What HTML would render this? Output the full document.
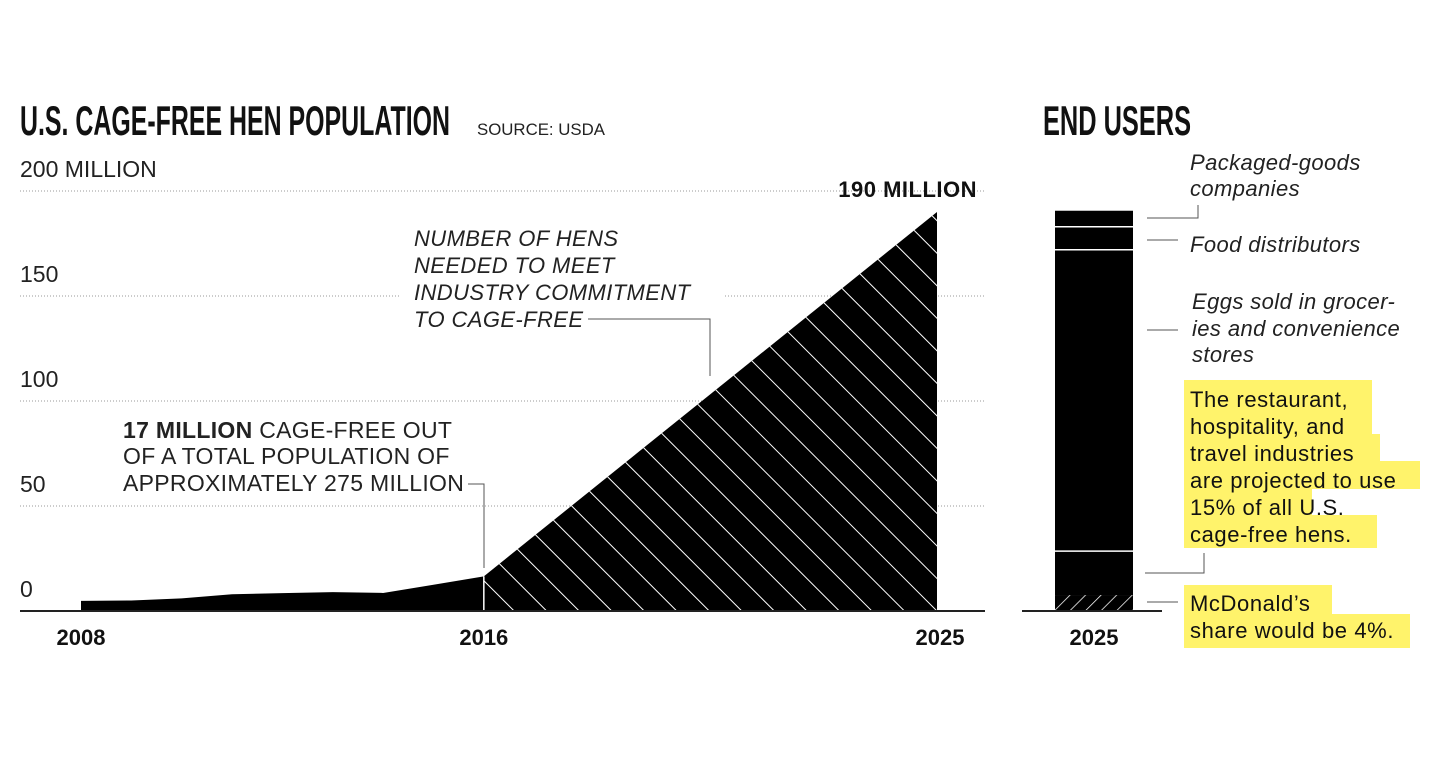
<!DOCTYPE html>
<html><head><meta charset="utf-8"><style>
html,body{margin:0;padding:0;background:#fff;}
svg{display:block;font-family:"Liberation Sans",sans-serif;}
.ax{font-size:23px;fill:#222;font-weight:300;}
.it{font-size:22px;font-style:italic;fill:#222;letter-spacing:0.4px;}
.yr{font-size:22px;font-weight:bold;fill:#111;}
.hl{font-size:22px;fill:#111;letter-spacing:0.6px;}
</style></head><body>
<svg width="1440" height="757" viewBox="0 0 1440 757">
<defs>
<pattern id="hatch" patternUnits="userSpaceOnUse" width="23" height="23" patternTransform="rotate(-45)">
<line x1="0" y1="0" x2="0" y2="23" stroke="#fff" stroke-width="2"/>
</pattern>
<pattern id="hatch2" patternUnits="userSpaceOnUse" width="11" height="11" patternTransform="rotate(45)">
<line x1="0" y1="0" x2="0" y2="11" stroke="#fff" stroke-width="1.5"/>
</pattern>
</defs>
<text x="20" y="135" font-size="42" font-weight="bold" textLength="430" lengthAdjust="spacingAndGlyphs" fill="#111">U.S. CAGE-FREE HEN POPULATION</text>
<text x="477" y="135" font-size="17" fill="#222" textLength="128" lengthAdjust="spacingAndGlyphs">SOURCE: USDA</text>
<text x="1043" y="135" font-size="42" font-weight="bold" textLength="148" lengthAdjust="spacingAndGlyphs" fill="#111">END USERS</text>
<g id="grid"></g>
<g id="yt"></g>
<g id="area"></g>
<line x1="20" y1="611" x2="985" y2="611" stroke="#222" stroke-width="2"/>
<g id="xt"></g>
<text x="977" y="197" text-anchor="end" font-size="22" font-weight="bold" fill="#111" letter-spacing="0.5">190 MILLION</text>
<g>
<text class="it" x="414" y="246">NUMBER OF HENS</text>
<text class="it" x="414" y="273">NEEDED TO MEET</text>
<text class="it" x="414" y="300">INDUSTRY COMMITMENT</text>
<text class="it" x="414" y="327">TO CAGE-FREE</text>
<polyline points="588,319 710,319 710,376" fill="none" stroke="#555" stroke-width="1"/>
</g>
<g>
<text class="ax" x="123" y="438" font-size="22" letter-spacing="0.3"><tspan font-weight="bold">17 MILLION</tspan> CAGE-FREE OUT</text>
<text class="ax" x="123" y="464" font-size="22" letter-spacing="0.3">OF A TOTAL POPULATION OF</text>
<text class="ax" x="123" y="491" font-size="22" letter-spacing="0.3">APPROXIMATELY 275 MILLION</text>
<polyline points="468,484 484,484 484,568" fill="none" stroke="#555" stroke-width="1"/>
</g>
<g id="bar"></g>
<line x1="1022" y1="611" x2="1162" y2="611" stroke="#222" stroke-width="2"/>
<text class="yr" x="1094" y="645" text-anchor="middle">2025</text>
<g fill="none" stroke="#555" stroke-width="1">
<polyline points="1147,218 1198,218 1198,205"/>
<line x1="1147" y1="240" x2="1178" y2="240"/>
<line x1="1147" y1="330" x2="1178" y2="330"/>
<polyline points="1145,573 1204,573 1204,553"/>
<line x1="1147" y1="602" x2="1178" y2="602"/>
</g>
<g>
<text class="it" x="1190" y="170">Packaged-goods</text>
<text class="it" x="1190" y="196">companies</text>
<text class="it" x="1190" y="252">Food distributors</text>
<text class="it" x="1192" y="309">Eggs sold in grocer-</text>
<text class="it" x="1192" y="336">ies and convenience</text>
<text class="it" x="1192" y="362">stores</text>
</g>
<g>
<rect x="1184" y="380" width="188" height="28" fill="#fff36b"/>
<rect x="1184" y="407" width="188" height="28" fill="#fff36b"/>
<rect x="1184" y="434" width="196" height="28" fill="#fff36b"/>
<rect x="1184" y="461" width="236" height="28" fill="#fff36b"/>
<rect x="1184" y="488" width="128" height="28" fill="#fff36b"/>
<rect x="1184" y="515" width="193" height="33" fill="#fff36b"/>
<text class="hl" x="1190" y="407">The restaurant,</text>
<text class="hl" x="1190" y="434">hospitality, and</text>
<text class="hl" x="1190" y="461">travel industries</text>
<text class="hl" x="1190" y="488">are projected to use</text>
<text class="hl" x="1190" y="515">15% of all U.S.</text>
<text class="hl" x="1190" y="542">cage-free hens.</text>
</g>
<g>
<rect x="1184" y="585" width="148" height="30" fill="#fff36b"/>
<rect x="1184" y="614" width="226" height="34" fill="#fff36b"/>
<text class="hl" x="1190" y="611">McDonald’s</text>
<text class="hl" x="1190" y="638">share would be 4%.</text>
</g>
</svg>
<script>
const years=[2008,2009,2010,2011,2012,2013,2014,2015,2016];
const hens=[4.8,5,6,8,8.5,9,8.6,12.5,16.5];
const projYears=[2016,2025];
const projHens=[16.5,190];
const yTicks=[0,50,100,150,200];
const yTickLabels=["0","50","100","150","200 MILLION"];
const xTickYears=[2008,2016,2025];
const segNames=["mcdonalds","restaurants","groceries","food-distributors","packaged-goods"];
const segValues=[7.6,20.9,143.5,11,7.6];

const NS="http://www.w3.org/2000/svg";
const X=y=>81+(y-2008)*(937-81)/17;
const Y=v=>611-v*2.1;
function mk(t,a,p){const e=document.createElementNS(NS,t);for(const k in a)e.setAttribute(k,a[k]);p.appendChild(e);return e;}
const grid=document.getElementById('grid'),yt=document.getElementById('yt');
yTicks.forEach((v,i)=>{
  if(v>0){
    const segs=v===150?[[20,400],[725,985]]:[[20,985]];
    segs.forEach(s=>{const l=mk('line',{x1:s[0],x2:s[1],y1:Y(v),y2:Y(v),stroke:'#999','stroke-width':1,'stroke-dasharray':'1,2'},grid);
    
    });
  }
  const t=mk('text',{x:20,y:Y(v)-14,class:'ax'},yt);t.textContent=yTickLabels[i];
  
  
});
const area=document.getElementById('area');
let pts=years.map((y,i)=>X(y)+','+Y(hens[i])).join(' ');
pts+=' '+X(2016)+',611 '+X(2008)+',611';
const a1=mk('polygon',{points:pts,fill:'#000'},area);


const p2=[X(projYears[0])+',611',X(projYears[0])+','+Y(projHens[0]),X(projYears[1])+','+Y(projHens[1]),X(projYears[1])+',611'].join(' ');
const a2=mk('polygon',{points:p2,fill:'#000'},area);


const a3=mk('polygon',{points:p2,fill:'url(#hatch)'},area);


const dv=mk('line',{x1:X(2016),x2:X(2016),y1:Y(projHens[0]),y2:611,stroke:'#fff','stroke-width':1.5},area);


const xt=document.getElementById('xt');
xTickYears.forEach(y=>{const t=mk('text',{x:X(y)+(y===2025?3:0),y:645,class:'yr','text-anchor':'middle'},xt);t.textContent=y;

});
const bar=document.getElementById('bar');
let acc=0;
segValues.forEach((v,i)=>{
  const y0=Y(acc),y1=Y(acc+v);
  const r=mk('rect',{x:1055,y:y1,width:78,height:y0-y1,fill:'#000'},bar);
  
  
  if(i===0){const h=mk('rect',{x:1055,y:y1,width:78,height:y0-y1,fill:'url(#hatch2)'},bar);
  
  }
  if(i>1){const l=mk('line',{x1:1055,x2:1133,y1:y0,y2:y0,stroke:'#fff','stroke-width':1.5},bar);
  
  }
  acc+=v;
});
</script>
</body></html>
